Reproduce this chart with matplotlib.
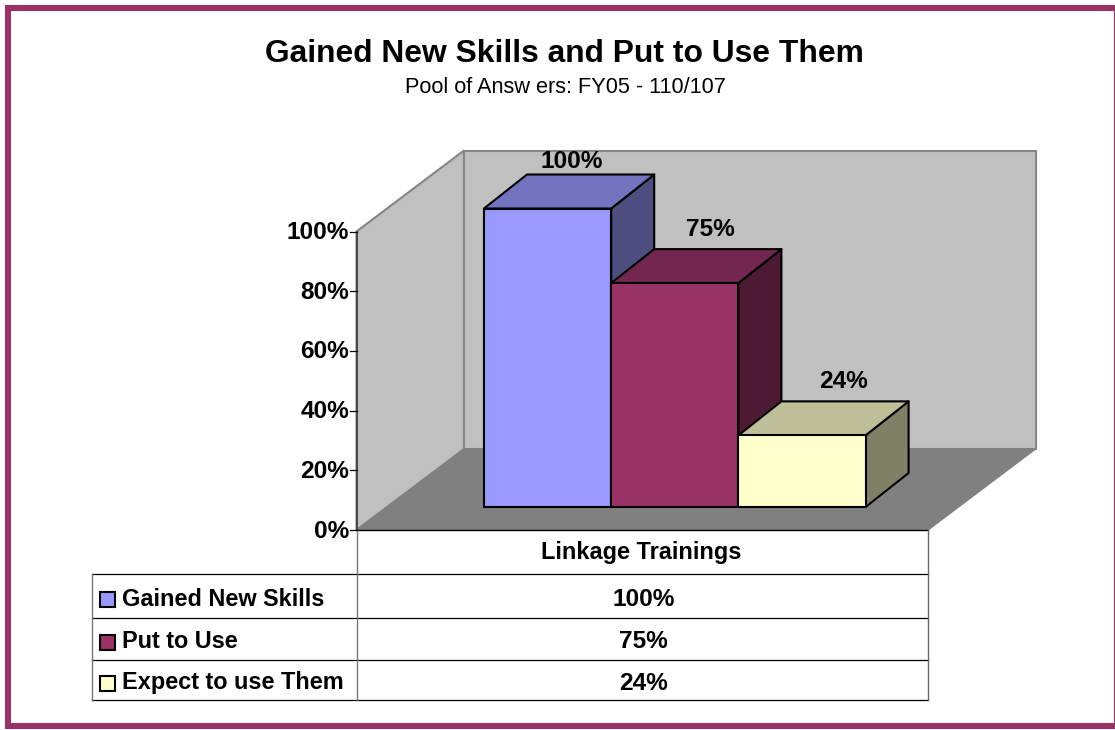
import matplotlib
matplotlib.use("Agg")
import matplotlib.pyplot as plt
from matplotlib.patches import Polygon, Rectangle

series = ['Gained New Skills', 'Put to Use', 'Expect to use Them']
values = [100, 75, 24]
value_labels = ['100%', '75%', '24%']
bar_colors = ['#9999FF', '#993366', '#FFFFCC']
top_colors = ['#7373BF', '#732650', '#BFBF99']
side_colors = ['#4D4D80', '#4D1A33', '#808066']
y_ticks = [0, 20, 40, 60, 80, 100]
category = 'Linkage Trainings'

plt.rcParams['font.family'] = ['Liberation Sans', 'DejaVu Sans']

W, H = 1115, 730
fig = plt.figure(figsize=(W / 100, H / 100), dpi=100)
ax = fig.add_axes([0, 0, 1, 1])
ax.set_xlim(0, W)
ax.set_ylim(H, 0)
ax.axis('off')

# chart geometry in pixels
x0, x1 = 356.5, 928
y0 = 530
px_per_pct = 2.985
wall_dx, wall_dy = 107.5, -81
bar_x0 = 484
bar_w = 127.2
bar_y0 = 507
bar_dx, bar_dy = 43, -34
# data labels do not sit evenly above the bars in the original
label_nudge = [(24.5, -13), (36, -20), (41, -20)]
pct_size = 17.6
name_size = 16.9


def val_y(v, base=y0):
    return base - v * px_per_pct


# outer frame
ax.add_patch(Rectangle((8, 8), 1109, 718, fc='white', ec='#993366', lw=4.4))

# walls and floor
wall_gray = '#C0C0C0'
edge_gray = '#868686'
ax.add_patch(Polygon([(x0, y0), (x0, val_y(100)), (x0 + wall_dx, val_y(100) + wall_dy),
                      (x0 + wall_dx, y0 + wall_dy)], fc=wall_gray, ec=edge_gray, lw=1.5))
ax.add_patch(Polygon([(x0 + wall_dx, y0 + wall_dy), (x0 + wall_dx, val_y(100) + wall_dy),
                      (x1 + wall_dx, val_y(100) + wall_dy), (x1 + wall_dx, y0 + wall_dy)],
                     fc=wall_gray, ec=edge_gray, lw=1.5))
ax.add_patch(Polygon([(x0, y0), (x0 + wall_dx, y0 + wall_dy), (x1 + wall_dx, y0 + wall_dy),
                      (x1, y0)], fc='#808080', ec='#808080', lw=1))

# y axis
ax.plot([x0, x0], [y0, val_y(100)], color='#333333', lw=1.1, zorder=3)
for t in y_ticks:
    ax.plot([x0 - 7, x0], [val_y(t), val_y(t)], color='black', lw=0.9, zorder=3)
    ax.text(x0 - 7.5, val_y(t) + 1, f'{t}%', ha='right', va='center', fontsize=pct_size, fontweight='bold')

# bars
for i, v in enumerate(values):
    left = bar_x0 + i * bar_w
    right = left + bar_w
    top = val_y(v, bar_y0)
    z = 5 + i
    ax.add_patch(Polygon([(right, top), (right + bar_dx, top + bar_dy),
                          (right + bar_dx, bar_y0 + bar_dy), (right, bar_y0)],
                         fc=side_colors[i], ec='black', lw=1.5, joinstyle='round', zorder=z))
    ax.add_patch(Polygon([(left, top), (left + bar_dx, top + bar_dy),
                          (right + bar_dx, top + bar_dy), (right, top)],
                         fc=top_colors[i], ec='black', lw=1.5, joinstyle='round', zorder=z))
    ax.add_patch(Rectangle((left, top), bar_w, bar_y0 - top, fc=bar_colors[i], ec='black',
                           lw=1.5, zorder=z))
    ax.text(left + bar_w / 2 + label_nudge[i][0], top + bar_dy + label_nudge[i][1], value_labels[i],
            ha='center', va='center', fontsize=pct_size, fontweight='bold', zorder=10)

# data table
row_y = [574, 618, 660, 700]
table_left = 92
ax.plot([x0, x1], [y0, y0], color='black', lw=1)
for y in row_y:
    ax.plot([table_left, x1], [y, y], color='black', lw=0.9)
ax.plot([table_left, table_left], [row_y[0], row_y[-1]], color='#777777', lw=1)
ax.plot([x0, x0], [y0, row_y[-1]], color='#777777', lw=1)
ax.plot([x1, x1], [y0, row_y[-1]], color='#666666', lw=1)

ax.text((x0 + x1) / 2 - 1, (y0 + row_y[0]) / 2 + 0.5, category, ha='center', va='center',
        fontsize=name_size, fontweight='bold')
for i, name in enumerate(series):
    yc = (row_y[i] + row_y[i + 1]) / 2 + 3
    ax.add_patch(Rectangle((99.5, yc - 7), 15, 15, fc=bar_colors[i], ec='black', lw=1.5))
    ax.text(122, yc, name, ha='left', va='center', fontsize=name_size, fontweight='bold')
    ax.text((x0 + x1) / 2 + 1, yc, value_labels[i], ha='center', va='center',
            fontsize=pct_size, fontweight='bold')

# titles
ax.text(564.5, 54, 'Gained New Skills and Put to Use Them', ha='center', va='center',
        fontsize=22.9, fontweight='bold')
ax.text(565, 87.5, 'Pool of Answ ers: FY05 - 110/107', ha='center', va='center', fontsize=15.7)

fig.savefig('out.png', dpi=100)
